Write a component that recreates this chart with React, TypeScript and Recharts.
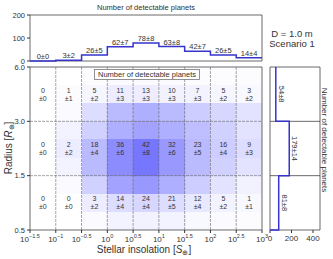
import { ComposedChart, Line, Scatter, XAxis, YAxis, ReferenceArea, ReferenceLine } from "recharts";

const FONT = "'Liberation Sans', Arial, sans-serif";
const BLUE = "#3535cc";
const INK = "#333";

// log10 of stellar insolation, bin edges
const xEdges = [-1.5, -1, -0.5, 0, 0.5, 1, 1.5, 2, 2.5, 3];
const radiusLabels = ["0.5", "1.5", "3.0", "6.0"];

// radius bins, top row first (3.0-6.0, 1.5-3.0, 0.5-1.5)
const countsLarge = [0, 1, 5, 11, 13, 10, 7, 5, 3];
const errLarge = [0, 1, 2, 3, 3, 3, 3, 2, 2];
const countsMid = [0, 2, 18, 36, 42, 32, 23, 16, 9];
const errMid = [0, 2, 4, 6, 8, 6, 5, 4, 3];
const countsSmall = [0, 0, 3, 14, 24, 21, 12, 5, 1];
const errSmall = [0, 0, 2, 4, 4, 5, 4, 2, 1];

// marginal over insolation
const insolTotals = [0, 3, 26, 62, 78, 63, 42, 26, 14];
const insolErrors = [0, 2, 5, 7, 8, 8, 7, 5, 4];

// marginal over radius, top bin first
const radiusTotals = [54, 179, 81];
const radiusErrors = [8, 14, 8];

// background shading of the map, 3 strips per radius bin, top to bottom
const density = [
  [0, 0, 0.01, 0.02, 0.02, 0.02, 0.01, 0.01, 0.01],
  [0, 0.01, 0.04, 0.08, 0.08, 0.06, 0.05, 0.04, 0.03],
  [0, 0.02, 0.15, 0.3, 0.35, 0.3, 0.22, 0.18, 0.12],
  [0, 0.05, 0.2, 0.35, 0.4, 0.35, 0.28, 0.2, 0.12],
  [0, 0.08, 0.3, 0.5, 0.6, 0.45, 0.3, 0.22, 0.15],
  [0, 0.05, 0.3, 0.5, 0.6, 0.45, 0.3, 0.2, 0.12],
  [0, 0.02, 0.2, 0.4, 0.45, 0.35, 0.22, 0.12, 0.06],
  [0, 0, 0.08, 0.15, 0.18, 0.15, 0.1, 0.05, 0.03],
  [0, 0, 0.02, 0.05, 0.06, 0.05, 0.03, 0.02, 0.01],
];

const rows = [
  { y: 2.5, n: countsLarge, e: errLarge },
  { y: 1.5, n: countsMid, e: errMid },
  { y: 0.5, n: countsSmall, e: errSmall },
];
const centers = xEdges.slice(0, -1).map((x, i) => (x + xEdges[i + 1]) / 2);

const cells = rows.flatMap((r) =>
  centers.map((x, i) => ({ x, y: r.y, n: r.n[i], e: r.e[i] }))
);

const topSteps = [
  ...insolTotals.map((v, i) => ({ x: xEdges[i], v })),
  { x: 3, v: insolTotals[insolTotals.length - 1] },
];
const topLabels = insolTotals.map((v, i) => ({
  x: centers[i],
  v,
  label: `${v}±${insolErrors[i]}`,
}));

const rightSteps = [
  ...radiusTotals.map((v, i) => ({ v, y: 3 - i })),
  { v: radiusTotals[radiusTotals.length - 1], y: 0 },
  { v: 0, y: 0 },
];
const rightLabels = radiusTotals.map((v, i) => ({
  v,
  y: 2.5 - i,
  label: `${v}±${radiusErrors[i]}`,
}));

const fmtExp = (v: number) => (v < 0 ? "\u2212" + Math.abs(v) : String(v));

function PowTick({ x, y, payload }: any) {
  return (
    <text x={x} y={y + 7} textAnchor="middle" fontSize={8} fill={INK} fontFamily={FONT}>
      10
      <tspan dy={-4} fontSize={5.5}>
        {fmtExp(payload.value)}
      </tspan>
    </text>
  );
}

function CellText({ cx, cy, payload }: any) {
  return (
    <g fontFamily={FONT} fontSize={7} fill={INK} textAnchor="middle">
      <text x={cx} y={cy - 1.5}>{payload.n}</text>
      <text x={cx} y={cy + 6.5}>±{payload.e}</text>
    </g>
  );
}

function StepLabel({ cx, cy, payload }: any) {
  return (
    <text x={cx} y={cy - 2} textAnchor="middle" fontSize={7.5} fill={INK} fontFamily={FONT}>
      {payload.label}
    </text>
  );
}

function SideLabel({ cx, cy, payload }: any) {
  return (
    <text
      transform={`translate(${cx + 3},${cy}) rotate(90)`}
      textAnchor="middle"
      fontSize={7.5}
      fill={INK}
      fontFamily={FONT}
    >
      {payload.label}
    </text>
  );
}

const Crisp = (fill: string, opacity: number) => (p: any) =>
  (
    <rect
      x={p.x}
      y={p.y}
      width={p.width}
      height={p.height}
      fill={fill}
      fillOpacity={opacity}
      shapeRendering="crispEdges"
    />
  );

const layer = { position: "absolute" as const, left: 0, top: 0 };

export default function App() {
  return (
    <div style={{ ...layer, width: 333, height: 259, background: "#fff", fontFamily: FONT }}>
      {/* main map */}
      <div style={layer}>
        <ComposedChart width={333} height={259} margin={{ top: 67, right: 71, bottom: 0, left: 0 }}>
          <XAxis
            type="number"
            dataKey="x"
            domain={[-1.5, 3]}
            ticks={xEdges}
            interval={0}
            tick={(p: any) => <PowTick {...p} />}
            tickSize={3}
            tickLine={{ stroke: INK }}
            axisLine={false}
            height={29}
          />
          <YAxis
            type="number"
            dataKey="y"
            domain={[0, 3]}
            ticks={[0, 1, 2, 3]}
            interval={0}
            tickFormatter={(v: number) => radiusLabels[v]}
            tick={{ fontSize: 7.5, fill: INK, fontFamily: FONT }}
            tickSize={3}
            tickLine={{ stroke: INK }}
            axisLine={false}
            width={30}
          />
          {density.flatMap((row, r) =>
            row.map((d, c) =>
              d > 0 ? (
                <ReferenceArea
                  key={`d${r}-${c}`}
                  x1={xEdges[c]}
                  x2={xEdges[c + 1]}
                  y1={3 - (r + 1) / 3}
                  y2={3 - r / 3}
                  shape={Crisp("#1a1aff", d)}
                />
              ) : null
            )
          )}
          {xEdges.slice(1, -1).map((x) => (
            <ReferenceLine key={`vx${x}`} x={x} stroke="#666" strokeWidth={0.6} strokeDasharray="3 1" />
          ))}
          {[1, 2].map((y) => (
            <ReferenceLine key={`hy${y}`} y={y} stroke="#666" strokeWidth={0.6} strokeDasharray="3 1" />
          ))}
          <Scatter data={cells} shape={CellText} isAnimationActive={false} />
          <ReferenceArea x1={-1.5} x2={3} y1={0} y2={3} fill="none" stroke="#444" strokeWidth={0.8} />
        </ComposedChart>
      </div>

      {/* top marginal */}
      <div style={layer}>
        <ComposedChart width={333} height={66} data={topSteps} margin={{ top: 15, right: 71, bottom: 0, left: 0 }}>
          <XAxis
            type="number"
            dataKey="x"
            domain={[-1.5, 3]}
            ticks={xEdges}
            interval={0}
            tick={false}
            tickSize={3}
            tickLine={{ stroke: INK }}
            axisLine={false}
            height={5}
          />
          <YAxis
            type="number"
            domain={[0, 200]}
            ticks={[0, 100, 200]}
            interval={0}
            tick={{ fontSize: 7.5, fill: INK, fontFamily: FONT }}
            tickSize={3}
            tickLine={{ stroke: INK }}
            axisLine={false}
            width={30}
          />
          <Line
            dataKey="v"
            type="stepAfter"
            stroke={BLUE}
            strokeWidth={1.5}
            dot={false}
            isAnimationActive={false}
          />
          <Scatter data={topLabels} dataKey="v" shape={StepLabel} isAnimationActive={false} />
          <ReferenceArea x1={-1.5} x2={3} y1={0} y2={200} fill="none" stroke="#444" strokeWidth={0.8} />
        </ComposedChart>
      </div>

      {/* right marginal */}
      <div style={layer}>
        <ComposedChart width={333} height={259} margin={{ top: 67, right: 13, bottom: 0, left: 270 }}>
          <XAxis
            type="number"
            dataKey="v"
            domain={[0, 465]}
            ticks={[0, 200, 400]}
            interval={0}
            tick={{ fontSize: 8, fill: INK, fontFamily: FONT }}
            tickSize={3}
            tickLine={{ stroke: INK }}
            axisLine={false}
            height={29}
          />
          <YAxis type="number" dataKey="y" domain={[0, 3]} hide />
          <ReferenceLine y={2} segment={[{ x: 0, y: 2 }, { x: 12, y: 2 }]} stroke="#444" strokeWidth={0.8} />
          <ReferenceLine y={1} segment={[{ x: 0, y: 1 }, { x: 12, y: 1 }]} stroke="#444" strokeWidth={0.8} />
          <Scatter
            data={rightSteps}
            line={{ stroke: BLUE, strokeWidth: 1.5 }}
            lineType="joint"
            lineJointType="stepBefore"
            shape={() => <g />}
            isAnimationActive={false}
          />
          <Scatter data={rightLabels} shape={SideLabel} isAnimationActive={false} />
          <ReferenceArea x1={0} x2={465} y1={0} y2={3} fill="none" stroke="#444" strokeWidth={0.8} />
        </ComposedChart>
      </div>

      {/* annotations */}
      <svg width={333} height={259} style={{ ...layer, pointerEvents: "none" }} fontFamily={FONT} fill={INK}>
        <text x={146} y={9.5} textAnchor="middle" fontSize={7.5}>
          Number of detectable planets
        </text>
        <text x={292} y={36.5} textAnchor="middle" fontSize={9.5}>
          D = 1.0 m
        </text>
        <text x={292} y={46.5} textAnchor="middle" fontSize={9.5}>
          Scenario 1
        </text>
        <rect x={94.5} y={69.5} width={105} height={10} fill="#fff" stroke="#777" strokeWidth={0.8} />
        <text x={147} y={77.2} textAnchor="middle" fontSize={7.5}>
          Number of detectable planets
        </text>
        <text x={144} y={252.5} textAnchor="middle" fontSize={10}>
          Stellar insolation [<tspan fontStyle="italic">S</tspan>
          <tspan fontSize={7} dy={2}>⊕</tspan>
          <tspan dy={-2}>]</tspan>
        </text>
        <text transform="translate(11.5,148) rotate(-90)" textAnchor="middle" fontSize={10}>
          Radius [<tspan fontStyle="italic">R</tspan>
          <tspan fontSize={7} dy={2}>⊕</tspan>
          <tspan dy={-2}>]</tspan>
        </text>
        <text transform="translate(322,140) rotate(90)" textAnchor="middle" fontSize={8}>
          Number of detectable planets
        </text>
      </svg>
    </div>
  );
}
